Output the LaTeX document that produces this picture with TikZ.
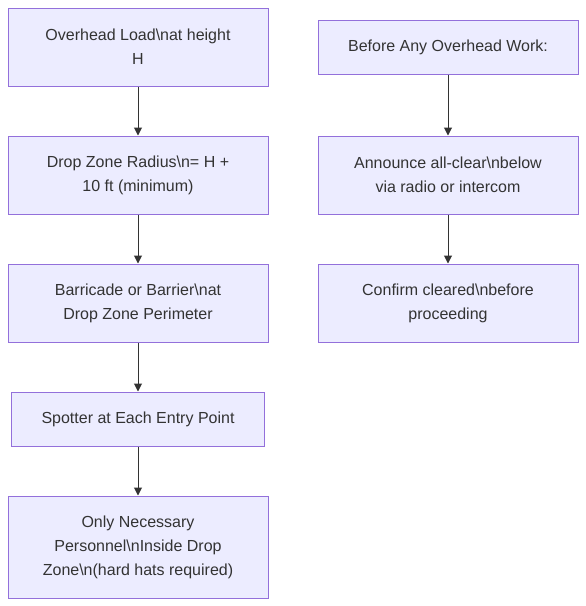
\documentclass[tikz,border=0pt]{standalone}
\usepackage{fontspec}
\setmainfont{Liberation Sans}
\usetikzlibrary{arrows.meta}
\definecolor{boxfill}{HTML}{ECECFF}
\definecolor{boxdraw}{HTML}{9370DB}
\definecolor{txt}{HTML}{333333}
\begin{document}
\begin{tikzpicture}[x=1pt,y=-1pt,
  box/.style={draw=boxdraw, fill=boxfill, line width=1pt, text=txt,
    minimum width=260pt, minimum height=78pt, align=center, inner sep=0pt,
    font=\fontsize{16pt}{24pt}\selectfont},
  conn/.style={draw=txt, line width=1pt, -{Triangle[length=8pt,width=8pt]}}]
\useasboundingbox (0,0) rectangle (586,606);
\node[box] (a1) at (138,47) {Overhead Load\textbackslash nat height\\H};
\node[box] (a2) at (138,175) {Drop Zone Radius\textbackslash n= H +\\10 ft (minimum)};
\node[box] (a3) at (138,303) {Barricade or Barrier\textbackslash nat\\Drop Zone Perimeter};
\node[box, minimum width=253pt, minimum height=54pt] (a4) at (138,419) {Spotter at Each Entry Point};
\node[box, minimum height=102pt] (a5) at (138,547) {Only Necessary\\Personnel\textbackslash nInside Drop\\Zone\textbackslash n(hard hats required)};
\node[box, minimum height=54pt] (b1) at (448,47) {Before Any Overhead Work:};
\node[box] (b2) at (448,175) {Announce all-clear\textbackslash nbelow\\via radio or intercom};
\node[box] (b3) at (448,303) {Confirm cleared\textbackslash nbefore\\proceeding};
\draw[conn] (a1) -- (a2);
\draw[conn] (a2) -- (a3);
\draw[conn] (a3) -- (a4);
\draw[conn] (a4) -- (a5);
\draw[conn] (b1) -- (b2);
\draw[conn] (b2) -- (b3);
\end{tikzpicture}
\end{document}
